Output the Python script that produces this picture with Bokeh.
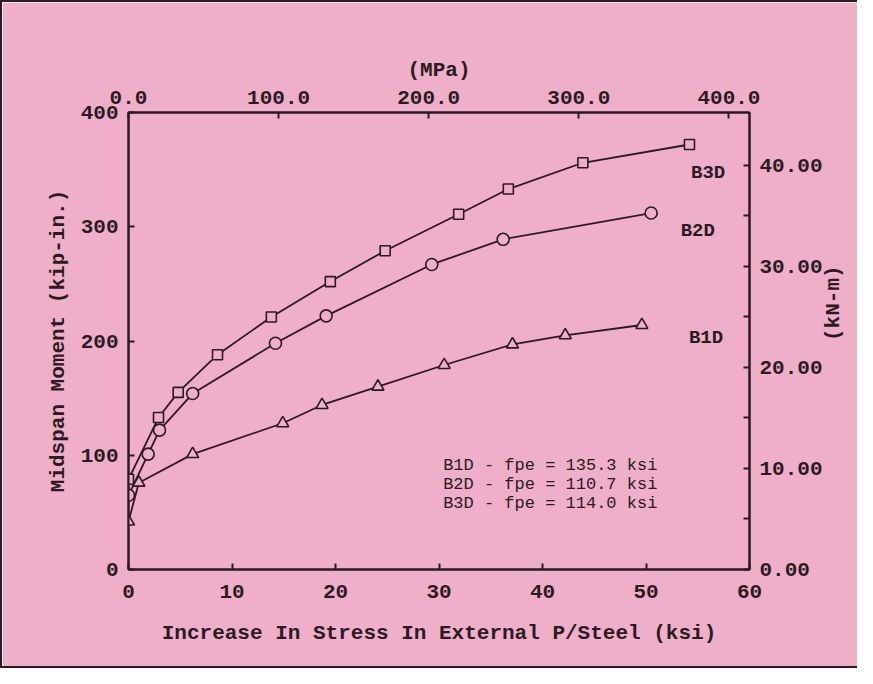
import math
from bokeh.plotting import figure
from bokeh.models import Range1d, LinearAxis, FixedTicker, PrintfTickFormatter
from bokeh.core.properties import value
from bokeh.embed import file_html
from bokeh.resources import INLINE

# ---- data ----
KSI_TO_MPA = 6.895
KIPIN_TO_KNM = 0.11298

b1d_x = [0.0, 1.0, 6.2, 14.9, 18.7, 24.1, 30.5, 37.1, 42.2, 49.6]
b1d_y = [42, 76, 101, 128, 144, 160, 179, 197, 205, 214]

b2d_x = [0.0, 1.9, 3.0, 6.2, 14.2, 19.1, 29.3, 36.2, 50.5]
b2d_y = [65, 101, 122, 154, 198, 222, 267, 289, 312]

b3d_x = [0.0, 2.9, 4.8, 8.6, 13.8, 19.5, 24.8, 31.9, 36.7, 43.9, 54.2]
b3d_y = [79, 133, 155, 188, 221, 252, 279, 311, 333, 356, 372]

series_names = ["B3D", "B2D", "B1D"]
note_lines = ["B1D - fpe = 135.3 ksi", "B2D - fpe = 110.7 ksi", "B3D - fpe = 114.0 ksi"]

x_ticks = [0, 10, 20, 30, 40, 50, 60]
y_ticks = [0, 100, 200, 300, 400]
mpa_ticks = [0, 100, 200, 300, 400]
knm_ticks = [0, 10, 20, 30, 40]
knm_minor = [5, 15, 25, 35]

# ---- label placement (data coords) ----
series_label_x = [56.0, 55.0, 55.8]
series_label_y = [347, 296, 203]
note_x = [30.4, 30.4, 30.4]
note_y = [91, 74.5, 58]

PINK = "#efafc9"
DARK = "#2b1a22"
FONT = "Liberation Mono"

p = figure(width=857, height=668,
           x_range=Range1d(0, 60), y_range=Range1d(0, 400),
           output_backend="svg", toolbar_location=None,
           min_border_left=126, min_border_right=110,
           min_border_top=110, min_border_bottom=101)
p.styles = {"border-left": f"2px solid {DARK}", "border-top": f"2px solid {DARK}",
            "border-bottom": f"2px solid {DARK}"}
p.background_fill_color = PINK
p.border_fill_color = PINK
p.outline_line_color = DARK
p.outline_line_width = 2
p.grid.visible = False

p.extra_x_ranges = {"mpa": Range1d(0, 60 * KSI_TO_MPA)}
p.extra_y_ranges = {"knm": Range1d(0, 400 * KIPIN_TO_KNM)}

bottom = p.below[0]
left = p.left[0]
bottom.ticker = FixedTicker(ticks=x_ticks)
left.ticker = FixedTicker(ticks=y_ticks)
bottom.axis_label = "Increase In Stress In External P/Steel (ksi)"
left.axis_label = "Midspan Moment (kip-in.)"

top = LinearAxis(x_range_name="mpa", axis_label="(MPa)",
                 ticker=FixedTicker(ticks=mpa_ticks),
                 formatter=PrintfTickFormatter(format="%.1f"))
p.add_layout(top, "above")
right = LinearAxis(y_range_name="knm", axis_label="(kN-m)",
                   ticker=FixedTicker(ticks=knm_ticks, minor_ticks=knm_minor),
                   formatter=PrintfTickFormatter(format="%.2f"))
p.add_layout(right, "right")

for ax in [bottom, left, top, right]:
    ax.axis_line_color = DARK
    ax.axis_line_width = 2
    ax.major_tick_line_color = DARK
    ax.major_tick_line_width = 2
    ax.major_tick_in = 6
    ax.major_tick_out = 0
    ax.minor_tick_line_color = None
    ax.major_label_text_font = FONT
    ax.major_label_text_font_style = "bold"
    ax.major_label_text_font_size = "21px"
    ax.major_label_text_color = DARK
    ax.axis_label_text_font = FONT
    ax.axis_label_text_font_style = "bold"
    ax.axis_label_text_font_size = "21px"
    ax.axis_label_text_color = DARK

right.minor_tick_line_color = DARK
right.minor_tick_line_width = 2
right.minor_tick_in = 6
right.minor_tick_out = 0
right.axis_label_orientation = math.pi / 2

bottom.major_label_standoff = 15
bottom.axis_label_standoff = 21
left.major_label_standoff = 10
left.axis_label_standoff = 8
top.major_label_standoff = 9
top.axis_label_standoff = 6
right.major_label_standoff = 10
right.axis_label_standoff = 8

for xs, ys, mk, sz in [(b3d_x, b3d_y, "square", 10), (b2d_x, b2d_y, "circle", 12), (b1d_x, b1d_y, "triangle", 12)]:
    p.line(xs, ys, line_color=DARK, line_width=1.8)
    p.scatter(xs, ys, marker=mk, size=sz, fill_color=PINK, line_color=DARK, line_width=1.6)

p.text(x=series_label_x, y=series_label_y, text=series_names,
       text_font=value(FONT), text_font_style="bold", text_font_size="19px",
       text_color=DARK, text_align="center", text_baseline="middle")
p.text(x=note_x, y=note_y, text=note_lines,
       text_font=value(FONT), text_font_size="17px",
       text_color=DARK, text_align="left", text_baseline="middle")

open("out.html", "w").write(file_html(p, INLINE))
